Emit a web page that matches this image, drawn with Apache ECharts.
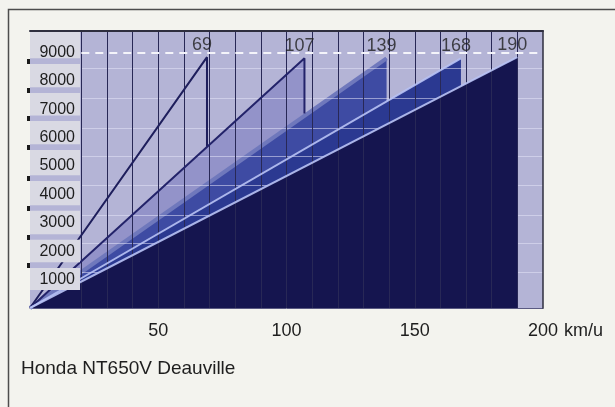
<!DOCTYPE html>
<html><head><meta charset="utf-8">
<script src="https://cdn.jsdelivr.net/npm/echarts@6/dist/echarts.min.js"></script>
<style>html,body{margin:0;padding:0;background:#f3f3ee}#c{width:615px;height:407px}</style>
</head><body><div id="c"></div>
<script>
// ---- data ----
const chartTitle = 'Honda NT650V Deauville';
const speedUnit = 'km/u';
const speedLabels = [50, 100, 150, 200];
const rpmLabels = [1000, 2000, 3000, 4000, 5000, 6000, 7000, 8000, 9000];
const gearTopSpeed = [69, 107, 139, 168, 190];          // km/u at the shift point
const gearPeakRpm = [8830, 8790, 8790, 8790, 8830];     // rpm at the shift point
const shiftDropRpm = [5680, 6850, 7300, 7800, 0];       // rpm after shifting up
const redlineRpm = 9000;
const gridSpeeds = [20, 30, 40, 50, 60, 70, 80, 90, 100, 110, 120, 130, 140, 150, 160, 170, 180, 190];
const stripeRpm = [8690, 7670, 6680, 5660, 4570, 3520, 2500, 1510]; // darker stripes in label column
const guideRpm = [8440, 7380, 6330, 5350, 4330, 3270, 2290, 1270];  // faint light guide lines

// ---- styling ----
const FONT = '"Liberation Sans", Arial, Helvetica, sans-serif';
const TXT = '#1e1e1e';
const areaColors = [null, '#9393c9', '#3e4ba3', '#2b3991', '#15154f'];
const areaZ = [0, 2, 3, 4, 6];
const lineColors = ['#1e1e5c', '#23236a', '#6f78bc', 'rgba(185,195,245,0.9)', 'rgba(185,195,245,0.9)'];
const lineWidths = [2, 2, 4, 2, 2];
const X_MIN = 0, X_MAX = 200, Y_MIN = 0, Y_MAX = 9750;
const LABEL_COL_END = 19.5;

const series = [];
// gear areas (gear 2..5)
for (let i = 1; i < gearTopSpeed.length; i++) {
  series.push({
    type: 'line', silent: true, symbol: 'none', z: areaZ[i],
    data: [[0, 0], [gearTopSpeed[i], gearPeakRpm[i]], [gearTopSpeed[i], 0]],
    lineStyle: { width: 0 },
    areaStyle: { color: areaColors[i], opacity: 1 }
  });
}
// faint guide lines
series.push({
  type: 'line', data: [], silent: true,
  markLine: {
    silent: true, symbol: 'none', z: 5, label: { show: false },
    lineStyle: { color: 'rgba(228,228,248,0.55)', width: 1, type: 'solid' },
    data: guideRpm.map(r => [{ coord: [gridSpeeds[0], r] }, { coord: [X_MAX, r] }])
  }
});
// vertical grid and redline
series.push({
  type: 'line', data: [], silent: true,
  markLine: {
    silent: true, symbol: 'none', z: 7, label: { show: false },
    lineStyle: { color: '#282856', width: 1, type: 'solid' },
    data: gridSpeeds.map(v => ({ xAxis: v }))
  }
});
series.push({
  type: 'line', data: [], silent: true,
  markLine: {
    silent: true, symbol: 'none', z: 7, label: { show: false },
    lineStyle: { color: '#f4f4fa', width: 2, type: [8, 6] },
    data: [[{ coord: [gridSpeeds[0], redlineRpm] }, { coord: [X_MAX, redlineRpm] }]]
  }
});
// gear lines
for (let i = 0; i < gearTopSpeed.length; i++) {
  const d = [[0, 0], [gearTopSpeed[i], gearPeakRpm[i]]];
  if (i < 2) d.push([gearTopSpeed[i], shiftDropRpm[i]]);
  series.push({
    type: 'line', silent: true, symbol: 'none', z: i === 2 ? 3 : 8,
    data: d,
    lineStyle: { color: lineColors[i], width: lineWidths[i] }
  });
}
// label column bands
const bands = [];
const half = 100;
bands.push([{ coord: [0, stripeRpm[0] + half] }, { coord: [LABEL_COL_END, Y_MAX] }]);
for (let k = 1; k < stripeRpm.length; k++) {
  bands.push([{ coord: [0, stripeRpm[k] + half] }, { coord: [LABEL_COL_END, stripeRpm[k - 1] - half] }]);
}
bands.push([{ coord: [0, 630] }, { coord: [LABEL_COL_END, stripeRpm[stripeRpm.length - 1] - half] }]);
series.push({
  type: 'line', data: [], silent: true,
  markArea: { silent: true, z: 9, itemStyle: { color: '#d9d9e3' }, data: bands }
});
// shift speed labels
series.push({
  type: 'scatter', silent: true, symbolSize: 0, z: 10,
  data: gearTopSpeed.map((v, i) => [v, gearPeakRpm[i]]),
  label: {
    show: true, position: 'top', distance: 3, offset: [-5, 0],
    formatter: p => String(p.value[0]),
    fontSize: 18, color: TXT, fontFamily: FONT
  }
});

const option = {
  backgroundColor: '#f3f3ee',
  animation: false,
  title: {
    text: chartTitle, left: 21, top: 359, padding: 0,
    textStyle: { fontSize: 19, fontWeight: 'normal', color: TXT, fontFamily: FONT }
  },
  graphic: [{
    type: 'rect', z: 0, silent: true,
    shape: { x: 8.5, y: 9.5, width: 640, height: 420 },
    style: { fill: 'none', stroke: '#4d4d4d', lineWidth: 1.5 }
  }],
  grid: { left: 30, right: 72, top: 31, bottom: 99, show: true, backgroundColor: '#b4b4d6', borderWidth: 0 },
  xAxis: [{
    type: 'value', min: X_MIN, max: X_MAX, position: 'bottom',
    axisLine: { show: true, onZero: false, lineStyle: { color: '#5a5a82', width: 1 } },
    axisTick: { show: false }, splitLine: { show: false },
    axisLabel: { customValues: speedLabels, formatter: v => String(v), fontSize: 18, color: TXT, margin: 14, fontFamily: FONT },
    name: speedUnit, nameLocation: 'end', nameGap: 20,
    nameTextStyle: { fontSize: 18, color: TXT, fontFamily: FONT, align: 'left', verticalAlign: 'top', padding: [14, 0, 0, 0] }
  }, {
    type: 'value', min: X_MIN, max: X_MAX, position: 'top', z: 12,
    axisLine: { show: true, onZero: false, lineStyle: { color: '#2e2e3e', width: 2 } },
    axisTick: { show: false }, axisLabel: { show: false }, splitLine: { show: false }
  }],
  yAxis: [{
    type: 'value', min: Y_MIN, max: Y_MAX, z: 11,
    axisLine: { show: false, onZero: false },
    axisTick: { show: true, customValues: stripeRpm, length: 3, lineStyle: { color: '#1a1a1a', width: 5 } },
    axisLabel: { inside: true, margin: 45, align: 'right', customValues: rpmLabels, formatter: v => String(v), fontSize: 16, color: TXT, fontFamily: FONT },
    splitLine: { show: false }
  }, {
    type: 'value', min: Y_MIN, max: Y_MAX, position: 'right', z: 12,
    axisLine: { show: true, onZero: false, lineStyle: { color: '#2e2e3e', width: 1.5 } },
    axisTick: { show: false }, axisLabel: { show: false }, splitLine: { show: false }
  }],
  series: series
};
const chart = echarts.init(document.getElementById('c'));
chart.setOption(option);
</script></body></html>
